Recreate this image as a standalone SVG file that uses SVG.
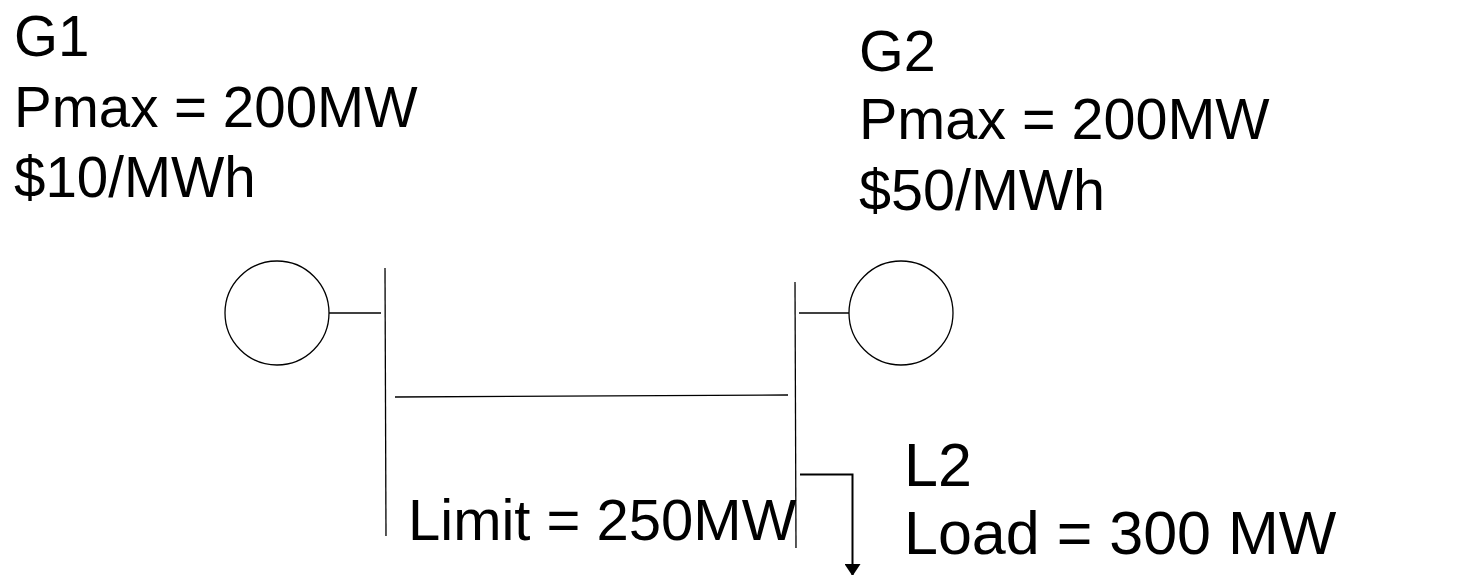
<svg xmlns="http://www.w3.org/2000/svg" width="1468" height="575" viewBox="0 0 1468 575">
<style>
text{font-family:"Liberation Sans",Arial,sans-serif;font-size:56.5px;fill:#000;font-kerning:none}
.g2{font-size:57.5px}
.lim{font-size:58px}
.l2{font-size:61px}
.l{stroke:#000;stroke-width:1.3;fill:none}
.t{stroke:#000;stroke-width:2;fill:none}
</style>
<defs><marker id="a" markerWidth="12" markerHeight="16" refX="12" refY="8" orient="auto" markerUnits="userSpaceOnUse" viewBox="0 0 12 16"><path d="M0 0L12 8L0 16z" fill="#000"/></marker></defs>
<rect width="1468" height="575" fill="#fff"/>
<g id="G1-label"><text x="14" y="56">G1</text><text x="14" y="127">Pmax = 200MW</text><text x="14" y="197">$10/MWh</text></g>
<g id="G2-label"><text class="g2" x="859" y="71">G2</text><text class="g2" x="859" y="139">Pmax = 200MW</text><text class="g2" x="859" y="210">$50/MWh</text></g>
<g id="L2-label"><text class="l2" x="904" y="486">L2</text><text class="l2" x="904" y="554">Load = 300 MW</text></g>
<g id="limit-label"><text class="lim" x="408" y="540">Limit = 250MW</text></g>
<g id="G1"><circle class="l" cx="277" cy="313" r="52"/></g>
<g id="G2"><circle class="l" cx="901" cy="313" r="52"/></g>
<g id="bus1"><line class="l" x1="385" y1="268" x2="386" y2="536"/></g>
<g id="bus2"><line class="l" x1="795" y1="282" x2="796" y2="548"/></g>
<g id="connectors">
<line class="l" x1="329" y1="313" x2="381" y2="313"/>
<line class="l" x1="799" y1="313" x2="849" y2="313"/>
<line class="l" x1="395" y1="397" x2="788" y2="395"/>
<path class="t" d="M800 474.500H852.500V576" marker-end="url(#a)"/>
</g>
</svg>
